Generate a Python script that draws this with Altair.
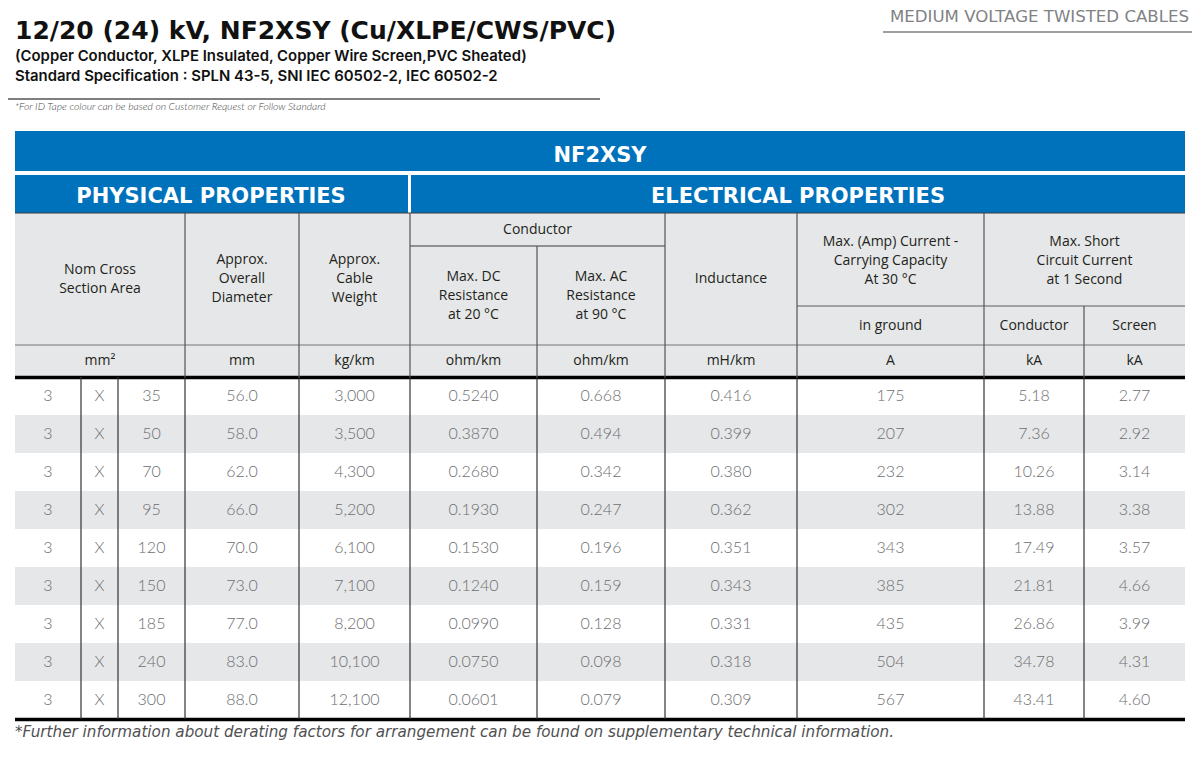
import altair as alt
import pandas as pd

# ---------------- data ----------------
cores = [3, 3, 3, 3, 3, 3, 3, 3, 3]
times = ["X", "X", "X", "X", "X", "X", "X", "X", "X"]
sizes = [35, 50, 70, 95, 120, 150, 185, 240, 300]
diameter = ["56.0", "58.0", "62.0", "66.0", "70.0", "73.0", "77.0", "83.0", "88.0"]
weight = ["3,000", "3,500", "4,300", "5,200", "6,100", "7,100", "8,200", "10,100", "12,100"]
dc_res = ["0.5240", "0.3870", "0.2680", "0.1930", "0.1530", "0.1240", "0.0990", "0.0750", "0.0601"]
ac_res = ["0.668", "0.494", "0.342", "0.247", "0.196", "0.159", "0.128", "0.098", "0.079"]
inductance = ["0.416", "0.399", "0.380", "0.362", "0.351", "0.343", "0.331", "0.318", "0.309"]
current = [175, 207, 232, 302, 343, 385, 435, 504, 567]
sc_conductor = ["5.18", "7.36", "10.26", "13.88", "17.49", "21.81", "26.86", "34.78", "43.41"]
sc_screen = ["2.77", "2.92", "3.14", "3.38", "3.57", "4.66", "3.99", "4.31", "4.60"]

title = "12/20 (24) kV, NF2XSY (Cu/XLPE/CWS/PVC)"
subtitles = ["(Copper Conductor, XLPE Insulated, Copper Wire Screen,PVC Sheated)",
             "Standard Specification : SPLN 43-5, SNI IEC 60502-2, IEC 60502-2"]
note = "*For ID Tape colour can be based on Customer Request or Follow Standard"
series_label = "MEDIUM VOLTAGE TWISTED CABLES"
product = "NF2XSY"
sections = ["PHYSICAL PROPERTIES", "ELECTRICAL PROPERTIES"]
header_labels = ["Nom Cross\nSection Area", "Approx.\nOverall\nDiameter", "Approx.\nCable\nWeight",
                 "Conductor", "Max. DC\nResistance\nat 20 °C", "Max. AC\nResistance\nat 90 °C",
                 "Inductance", "Max. (Amp) Current -\nCarrying Capacity\nAt 30 °C",
                 "Max. Short\nCircuit Current\nat 1 Second", "in ground", "Conductor", "Screen"]
unit_labels = ["mm²", "mm", "kg/km", "ohm/km", "ohm/km", "mH/km", "A", "kA", "kA"]
footer = "*Further information about derating factors for arrangement can be found on supplementary technical information."

# ---------------- layout (page pixels) ----------------
E = [15, 81, 118, 185, 299, 410, 537, 665, 797, 984, 1084, 1185]
L, R = E[0], E[-1]
ROW_TOP, ROW_H = 377, 38
HDR_TOP, SUB1, SUB2, UNIT_TOP, UNIT_BOT = 213, 246, 306, 345, 377
BLUE = "#0072bc"
GREY_BG = "#e6e7e8"
LH = 19


def mid(a, b):
    return (E[a] + E[b]) / 2


n = len(sizes)
row_y = [ROW_TOP + ROW_H * (i + 0.5) for i in range(n)]
BOT = ROW_TOP + ROW_H * n

xs = alt.Scale(domain=[8, 1192], nice=False, zero=False)
ys = alt.Scale(domain=[8, 749], reverse=True, nice=False, zero=False)
X = alt.X("x:Q", scale=xs, axis=None)
Y = alt.Y("y:Q", scale=ys, axis=None)

# ---------------- rectangles ----------------
rects = [
    (L, R, 131, 171, BLUE),
    (L, 408, 175, 213, BLUE),
    (411, R, 175, 213, BLUE),
    (L, R, HDR_TOP, UNIT_BOT, GREY_BG),
]
for i in range(n):
    if i % 2 == 1:
        rects.append((L, R, ROW_TOP + ROW_H * i, ROW_TOP + ROW_H * (i + 1), GREY_BG))
rect_df = pd.DataFrame(rects, columns=["x", "x2", "y", "y2", "c"])
rect_layer = alt.Chart(rect_df).mark_rect().encode(
    x=X, x2="x2", y=Y, y2="y2", color=alt.Color("c:N", scale=None))

# ---------------- rules ----------------
rules = [
    (L, R, HDR_TOP, HDR_TOP, "#3a3a3a", 1.2),
    (E[5], E[7], SUB1, SUB1, "#3a3a3a", 1.2),
    (E[8], R, SUB2, SUB2, "#8a8a8a", 1.5),
    (L, R, UNIT_TOP, UNIT_TOP, "#9a9a9a", 1.5),
    (L, R, 377.5, 377.5, "#000000", 3.5),
    (L, R, BOT + 0.5, BOT + 0.5, "#000000", 3.5),
    (883, 1200, 32, 32, "#a0a0a0", 2),
    (0, 600, 99, 99, "#000000", 1.2),
]
for k in [3, 4, 5, 7, 8, 9]:
    rules.append((E[k], E[k], HDR_TOP, UNIT_BOT, "#555555", 1.2))
rules.append((E[6], E[6], SUB1, UNIT_BOT, "#555555", 1.2))
rules.append((E[10], E[10], SUB2, UNIT_BOT, "#555555", 1.2))
for k in range(1, len(E) - 1):
    rules.append((E[k], E[k], ROW_TOP, BOT, "#333333", 1.2))
rule_df = pd.DataFrame(rules, columns=["x", "x2", "y", "y2", "c", "w"])
rule_layer = alt.Chart(rule_df).mark_rule(strokeCap="butt").encode(
    x=X, x2="x2", y=Y, y2="y2",
    color=alt.Color("c:N", scale=None),
    size=alt.Size("w:Q", scale=None))


def text_layer(rows, **kw):
    df = pd.DataFrame(rows, columns=["x", "y", "t"])
    return alt.Chart(df).mark_text(**kw).encode(x=X, y=Y, text="t:N")


# ---------------- texts ----------------
title_layer = text_layer([(15, 39, title)], align="left", baseline="alphabetic",
                         font="DejaVu Sans", fontWeight="bold", fontSize=25, color="#111111")
sub_layer = text_layer([(15, 57, subtitles[0]), (15, 77, subtitles[1])], align="left",
                       baseline="middle", font="Inter", fontWeight=600, fontSize=14.9,
                       color="#111111")
note_layer = text_layer([(15, 107, note)], align="left", baseline="middle", font="Lato",
                        fontStyle="italic", fontWeight=300, fontSize=10.3, color="#444444")
series_layer = text_layer([(1189, 17, series_label)], align="right", baseline="middle",
                          font="DejaVu Sans", fontSize=16.6, color="#808285")
bar_layer = text_layer([(600, 156, product), (211, 197, sections[0]), (798, 197, sections[1])],
                       align="center", baseline="middle", font="DejaVu Sans", fontWeight="bold",
                       fontSize=21, color="#ffffff")

hdr_mid = (HDR_TOP + UNIT_TOP) / 2
hdr_pos = [
    (mid(0, 3), hdr_mid), (mid(3, 4), hdr_mid), (mid(4, 5), hdr_mid),
    (mid(5, 7), (HDR_TOP + SUB1) / 2),
    (mid(5, 6), (SUB1 + UNIT_TOP) / 2), (mid(6, 7), (SUB1 + UNIT_TOP) / 2),
    (mid(7, 8), hdr_mid),
    (mid(8, 9), (HDR_TOP + SUB2) / 2 + 1), (mid(9, 11), (HDR_TOP + SUB2) / 2 + 1),
    (mid(8, 9), (SUB2 + UNIT_TOP) / 2), (mid(9, 10), (SUB2 + UNIT_TOP) / 2),
    (mid(10, 11), (SUB2 + UNIT_TOP) / 2),
]
hdr_rows = []
for p, t in zip(hdr_pos, header_labels):
    nl = t.count("\n")
    hdr_rows.append((p[0], p[1] - nl * LH / 2, t))
hdr_layer = text_layer(hdr_rows, align="center", baseline="middle", lineBreak="\n",
                       lineHeight=LH, font="Open Sans", fontSize=14, color="#231f20")
unit_x = [mid(0, 3), mid(3, 4), mid(4, 5), mid(5, 6), mid(6, 7), mid(7, 8), mid(8, 9),
          mid(9, 10), mid(10, 11)]
unit_layer = text_layer([(x, (UNIT_TOP + UNIT_BOT) / 2, t) for x, t in zip(unit_x, unit_labels)],
                        align="center", baseline="middle", font="Open Sans", fontSize=14,
                        color="#231f20")

columns = [cores, times, sizes, diameter, weight, dc_res, ac_res, inductance, current,
           sc_conductor, sc_screen]
cells = []
for j, col in enumerate(columns):
    for i, v in enumerate(col):
        cells.append((mid(j, j + 1), row_y[i], str(v)))
data_layer = text_layer(cells, align="center", baseline="middle", font="Lato", fontWeight=300,
                        fontSize=16, color="#6d6e71")
footer_layer = text_layer([(15, 732, footer)], align="left", baseline="middle", font="DejaVu Sans",
                          fontStyle="italic", fontSize=15.2, color="#505052")

chart = alt.layer(
    rect_layer, rule_layer, title_layer, sub_layer, note_layer, series_layer, bar_layer,
    hdr_layer, unit_layer, data_layer, footer_layer
).properties(
    width=1184, height=741, padding=0, autosize=alt.AutoSizeParams(type="none"),
    background="white"
).configure_view(stroke=None)

chart.save("out.html", embed_options={"renderer": "svg", "actions": False})
